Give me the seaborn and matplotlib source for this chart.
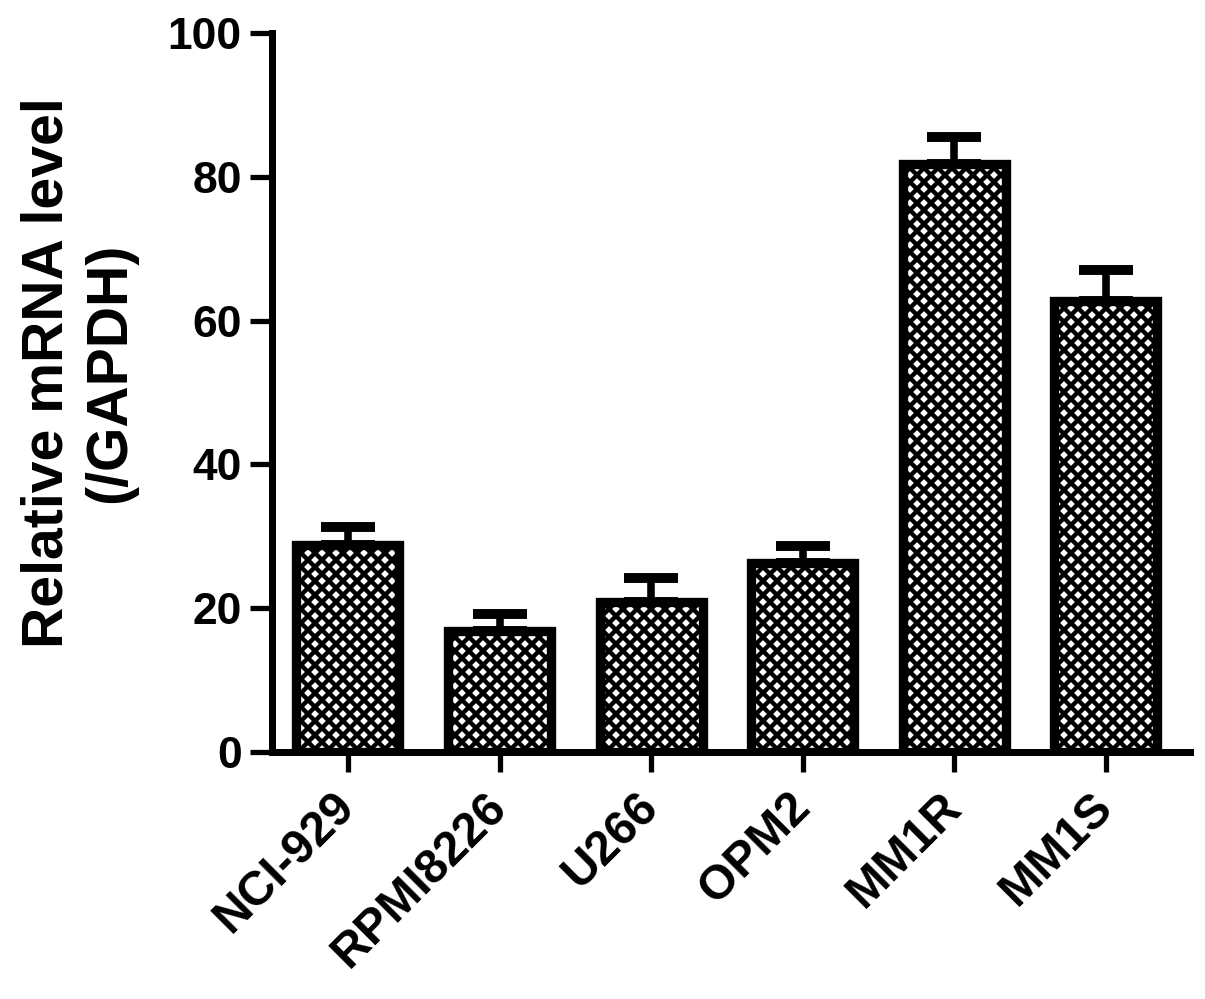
import numpy as np
import pandas as pd
import seaborn as sns
import matplotlib.pyplot as plt

cells = ['NCI-929', 'RPMI8226', 'U266', 'OPM2', 'MM1R', 'MM1S']
means = [28.8, 16.8, 20.9, 26.3, 81.8, 62.7]
errs = [2.5, 2.4, 3.3, 2.4, 3.8, 4.3]
yticks = [0, 20, 40, 60, 80, 100]

df = pd.DataFrame({'cell': cells, 'level': means})

sns.set_theme(style='ticks')
plt.rcParams['font.family'] = ['Liberation Sans', 'DejaVu Sans']
plt.rcParams['font.weight'] = 'bold'
plt.rcParams['text.color'] = 'black'
plt.rcParams['axes.labelcolor'] = 'black'
plt.rcParams['hatch.linewidth'] = 3.8

dpi = 84
fig = plt.figure(figsize=(1205 / dpi, 999 / dpi), dpi=dpi)
ax = fig.add_axes([0.2257, 0.2472, 0.7618, 0.7197])

sns.barplot(
    data=df, x='cell', y='level', order=cells,
    color='white', edgecolor='black', linewidth=8,
    hatch='xx', width=0.68, saturation=1, ax=ax,
)
for p in ax.patches:
    p.set_facecolor('white')
    p.set_edgecolor('black')

# upper error bars only
ax.errorbar(
    np.arange(len(cells)), means, yerr=[np.zeros(len(errs)), errs],
    fmt='none', ecolor='black', elinewidth=6.5,
    capsize=23, capthick=8.5, zorder=5,
)

ax.set_xlim(-0.501, 5.554)
ax.set_ylim(0, 100)
ax.set_yticks(yticks)
ax.set_xlabel('')
ax.set_ylabel('Relative mRNA level\n(/GAPDH)', fontsize=49, fontweight='bold',
              linespacing=1.2, color='black')
ax.yaxis.set_label_coords(-0.147, 0.528)

sns.despine(ax=ax)
for side in ['left', 'bottom']:
    ax.spines[side].set_linewidth(6)
    ax.spines[side].set_color('black')

ax.tick_params(axis='y', length=19, width=4.5, pad=7, labelsize=38,
               color='black', labelcolor='black')
ax.tick_params(axis='x', length=17, width=4.5, pad=24, labelsize=41,
               color='black', labelcolor='black')
for lab in ax.get_xticklabels():
    lab.set_rotation(45)
    lab.set_ha('right')
    lab.set_va('center')
    lab.set_rotation_mode('anchor')
    lab.set_fontweight('bold')
for lab in ax.get_yticklabels():
    lab.set_fontweight('bold')

fig.savefig('out.png', dpi=dpi, facecolor='white')
